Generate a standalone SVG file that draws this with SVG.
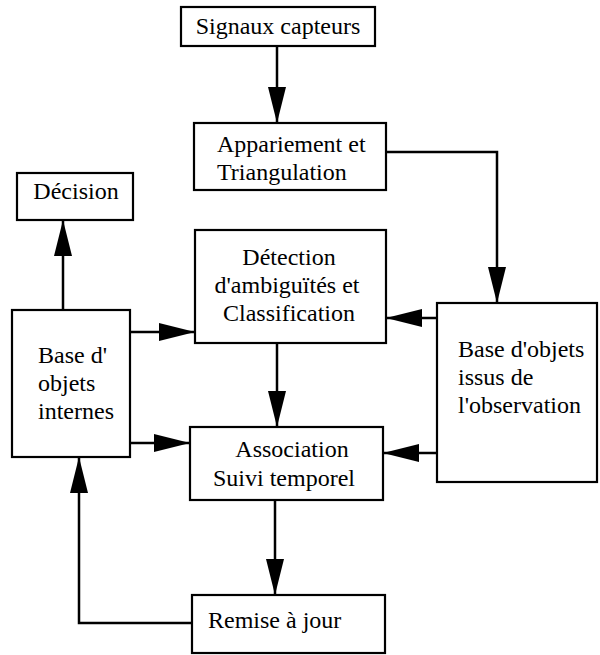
<svg xmlns="http://www.w3.org/2000/svg" width="600" height="655" viewBox="0 0 600 655">
<style>
.box{fill:#fff;stroke:#000;stroke-width:2.2}
.t{font-family:"Liberation Serif","Times New Roman",serif;font-size:24px;fill:#000}
.c{text-anchor:middle}
.ln{fill:none;stroke:#000;stroke-width:2.5}
</style>
<defs>
<marker id="ah" markerUnits="userSpaceOnUse" markerWidth="38" markerHeight="20" refX="36" refY="9" orient="auto">
<path d="M0,0 L36,9 L0,18 Z" fill="#000"/>
</marker>
</defs>
<rect width="600" height="655" fill="#fff"/>
<g id="connectors">
<path class="ln" d="M277,46 V123" marker-end="url(#ah)"/>
<path class="ln" d="M386,152 H497 V303" marker-end="url(#ah)"/>
<path class="ln" d="M437,318 H386" marker-end="url(#ah)"/>
<path class="ln" d="M130,332 H195" marker-end="url(#ah)"/>
<path class="ln" d="M63,310 V220" marker-end="url(#ah)"/>
<path class="ln" d="M277,343 V427" marker-end="url(#ah)"/>
<path class="ln" d="M130,443 H190" marker-end="url(#ah)"/>
<path class="ln" d="M437,453 H383" marker-end="url(#ah)"/>
<path class="ln" d="M275,500 V595" marker-end="url(#ah)"/>
<path class="ln" d="M192,623 H79 V457" marker-end="url(#ah)"/>
</g>
<g id="signaux">
<rect class="box" x="181" y="7" width="194" height="39"/>
<text class="t c" x="278" y="34">Signaux capteurs</text>
</g>
<g id="appariement">
<rect class="box" x="194" y="123" width="192" height="67"/>
<text class="t" x="217" y="152">Appariement et</text>
<text class="t" x="217" y="180">Triangulation</text>
</g>
<g id="decision">
<rect class="box" x="17" y="173" width="116" height="47"/>
<text class="t c" x="76" y="199">Décision</text>
</g>
<g id="detection">
<rect class="box" x="195" y="230" width="191" height="113"/>
<text class="t c" x="289" y="265">Détection</text>
<text class="t c" x="287" y="293">d'ambiguïtés et</text>
<text class="t c" x="289" y="321">Classification</text>
</g>
<g id="base-internes">
<rect class="box" x="12" y="310" width="118" height="147"/>
<text class="t" x="38" y="363">Base d'</text>
<text class="t" x="38" y="391">objets</text>
<text class="t" x="38" y="419">internes</text>
</g>
<g id="base-observation">
<rect class="box" x="437" y="303" width="160" height="179"/>
<text class="t" x="458" y="357">Base d'objets</text>
<text class="t" x="458" y="385">issus de</text>
<text class="t" x="458" y="413">l'observation</text>
</g>
<g id="association">
<rect class="box" x="190" y="427" width="193" height="73"/>
<text class="t c" x="292" y="457">Association</text>
<text class="t c" x="284" y="486">Suivi temporel</text>
</g>
<g id="remise">
<rect class="box" x="192" y="595" width="193" height="58"/>
<text class="t" x="208" y="628">Remise à jour</text>
</g>
</svg>
